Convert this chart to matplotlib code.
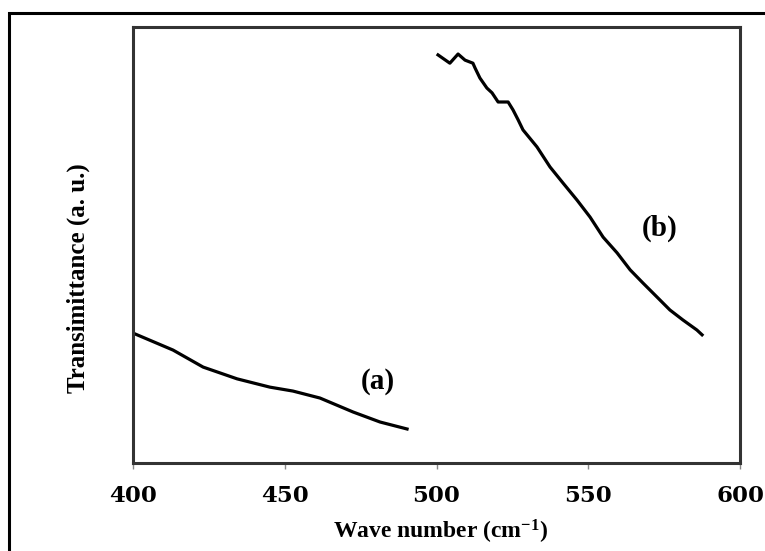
import matplotlib.pyplot as plt
from matplotlib.patches import Rectangle

plt.rcParams['mathtext.fontset'] = 'custom'
plt.rcParams['mathtext.rm'] = 'Liberation Serif'
plt.rcParams['mathtext.bf'] = 'Liberation Serif:bold'

# Sample (a): wave number and transmittance (arbitrary units)
xA = [400.0, 413.2, 423.1, 434.3, 445.1, 452.7, 461.6, 472.5, 481.4, 490.3]
yA = [29.8, 25.9, 22.0, 19.3, 17.4, 16.5, 14.9, 11.7, 9.4, 7.8]

# Sample (b)
xB = [500.5, 504.4, 507.1, 509.4, 512.0, 512.7, 514.3, 516.6, 518.3, 520.3,
      523.6, 525.2, 526.9, 528.5, 533.1, 537.4, 541.7, 546.3, 550.6, 554.9,
      559.5, 563.8, 568.0, 572.6, 576.9, 581.2, 585.8, 587.5]
yB = [93.6, 91.7, 93.8, 92.4, 91.7, 90.6, 88.3, 86.0, 84.9, 82.8,
      82.8, 81.0, 78.7, 76.4, 72.5, 67.9, 64.2, 60.3, 56.4, 51.8,
      48.2, 44.3, 41.3, 38.1, 35.1, 32.8, 30.5, 29.4]

xTicks = [400, 450, 500, 550, 600]

fig = plt.figure(figsize=(7.65, 5.51), dpi=100)
ax = fig.add_axes([133 / 765, 88 / 551, 607 / 765, 436 / 551])

ax.plot(xA, yA, color='black', linewidth=2.3, solid_joinstyle='round')
ax.plot(xB, yB, color='black', linewidth=2.3, solid_joinstyle='round')

ax.set_xlim(400, 600)
ax.set_ylim(0, 100)
ax.set_xticks(xTicks)
ax.set_yticks([])
ax.tick_params(axis='x', length=4, width=1, color='#888888', pad=12)
for lab in ax.get_xticklabels():
    lab.set_fontfamily('DejaVu Serif')
    lab.set_fontweight('bold')
    lab.set_fontsize(16.5)

for s in ax.spines.values():
    s.set_linewidth(2.2)
    s.set_color('#333333')

# sample labels
ax.text(480.7, 18.6, '(a)', fontsize=21, fontweight='bold', family='Liberation Serif',
        ha='center', va='center')
ax.text(573.6, 53.9, '(b)', fontsize=21, fontweight='bold', family='Liberation Serif',
        ha='center', va='center')

ax.set_xlabel('Wave number (cm$\\mathbf{^{-1}}$)', fontsize=17, fontweight='bold',
              family='Liberation Serif')
ax.xaxis.set_label_coords(0.507, -0.125)
ax.set_ylabel('Transimittance (a. u.)', fontsize=18, fontweight='bold',
              family='Liberation Serif')
ax.yaxis.set_label_coords(-0.071, 0.424)

# outer frame around the figure
fig.patches.append(Rectangle((9 / 765, -0.1), 1.2, 0.1 + 538 / 551, transform=fig.transFigure,
                             fill=False, edgecolor='black', linewidth=2.2, clip_on=False))

fig.savefig('out.png', dpi=100)
